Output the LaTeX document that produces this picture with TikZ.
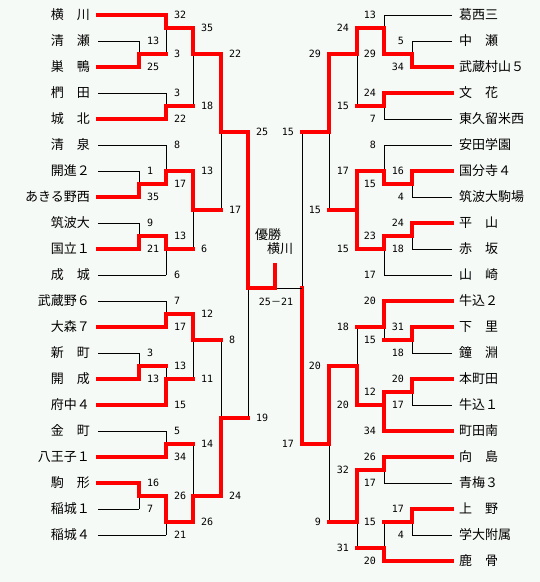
\documentclass[tikz,border=0pt]{standalone}
\usepackage{fontspec}
\usepackage{tikz}
\newfontfamily\jp{Noto Sans CJK JP}
\newfontfamily\digits{DejaVu Sans Mono}
\definecolor{bgcol}{RGB}{246,250,246}
\definecolor{wincol}{RGB}{255,0,0}

\begin{document}
\begin{tikzpicture}[x=1pt, y=-13pt,
  team/.style={inner sep=0pt, font=\jp\fontsize{13}{13}\selectfont},
  score/.style={inner sep=0pt, font=\digits\fontsize{10}{10}\selectfont},
  bk/.style={draw=black, line width=1pt},
  rd/.style={draw=wincol, line width=3.6pt, line cap=rect},
]
\fill[bgcol] (0,{-15/13}) rectangle (540,{567/13});
\useasboundingbox (0,{-15/13}) rectangle (540,{567/13});

% Teams, left block
\foreach \i/\t in {1/横　川, 2/清　瀬, 3/巣　鴨, 4/椚　田, 5/城　北, 6/清　泉,
  7/開進２, 8/あきる野西, 9/筑波大, 10/国立１, 11/成　城, 12/武蔵野６,
  13/大森７, 14/新　町, 15/開　成, 16/府中４, 17/金　町, 18/八王子１,
  19/駒　形, 20/稲城１, 21/稲城４}
{ \node[team, anchor=east] (nL\i) at (90,{2*(\i-1)}) {\t};
  \coordinate (L\i) at ([xshift=8pt]nL\i.east); }

% Teams, right block
\foreach \i/\t in {1/葛西三, 2/中　瀬, 3/武蔵村山５, 4/文　花, 5/東久留米西,
  6/安田学園, 7/国分寺４, 8/筑波大駒場, 9/平　山, 10/赤　坂, 11/山　崎,
  12/牛込２, 13/下　里, 14/鐘　淵, 15/本町田, 16/牛込１, 17/町田南,
  18/向　島, 19/青梅３, 20/上　野, 21/学大附属, 22/鹿　骨}
{ \node[team, anchor=west] (nR\i) at (459,{2*(\i-1)}) {\t};
  \coordinate (R\i) at ([xshift=-7pt]nR\i.west); }

% Left bracket: name/column/top/colour/bottom/colour/out/winner/scores
\foreach \n/\x/\a/\ca/\b/\cb/\y/\w/\sa/\sb in {
  a1/139/L2/bk/L3/rd/3/L3/13/25,
  a2/166/L1/rd/a1/rd/1/L1/32/3,
  a3/166/L4/bk/L5/rd/7/L5/3/22,
  a4/193/a2/rd/a3/rd/3/a2/35/18,
  a5/139/L7/bk/L8/rd/13/L8/1/35,
  a6/166/L6/bk/a5/rd/12/a5/8/17,
  a7/139/L9/bk/L10/rd/17/L10/9/21,
  a8/166/a7/rd/L11/bk/18/a7/13/6,
  a9/193/a6/rd/a8/rd/15/a6/13/6,
  a10/221/a4/rd/a9/rd/9/a4/22/17,
  a11/166/L12/bk/L13/rd/23/L13/7/17,
  a12/139/L14/bk/L15/rd/27/L15/3/13,
  a13/166/a12/rd/L16/rd/28/L16/13/15,
  a14/193/a11/rd/a13/rd/25/a11/12/11,
  a15/166/L17/bk/L18/rd/33/L18/5/34,
  a16/139/L19/rd/L20/bk/37/L19/16/7,
  a17/166/a16/rd/L21/bk/39/a16/26/21,
  a18/193/a15/rd/a17/rd/37/a17/14/26,
  a19/221/a14/rd/a18/rd/31/a18/8/24,
  a20/248/a10/rd/a19/rd/21/a10/25/19}
{ \coordinate (\n) at (\x,\y);
  \draw[bk] (\a -| \n) -- (\b -| \n);
  \draw[\ca] (\a) -- (\a -| \n);
  \draw[\cb] (\b) -- (\b -| \n);
  \draw[rd] (\w -| \n) -- (\n);
  \node[score, anchor=west, xshift=8pt] (\n-1) at (\a -| \n) {\sa};
  \node[score, anchor=west, xshift=8pt] (\n-2) at (\b -| \n) {\sb}; }

% Right bracket
\foreach \n/\x/\a/\ca/\b/\cb/\y/\w/\sa/\sb in {
  b1/412/R2/bk/R3/rd/3/R3/5/34,
  b2/384/R1/bk/b1/rd/1/b1/13/29,
  b3/384/R4/rd/R5/bk/7/R4/24/7,
  b4/357/b2/rd/b3/rd/3/b2/24/15,
  b5/412/R7/rd/R8/bk/13/R7/16/4,
  b6/384/R6/bk/b5/rd/12/b5/8/15,
  b7/412/R9/rd/R10/bk/17/R9/24/18,
  b8/384/b7/rd/R11/bk/18/b7/23/17,
  b9/357/b6/rd/b8/rd/15/b6/17/15,
  b10/329/b4/rd/b9/rd/9/b4/29/15,
  b11/412/R13/rd/R14/bk/25/R13/31/18,
  b12/384/R12/rd/b11/rd/24/R12/20/15,
  b13/412/R15/rd/R16/bk/29/R15/20/17,
  b14/384/b13/rd/R17/rd/30/R17/12/34,
  b15/357/b12/rd/b14/rd/27/b14/18/20,
  b16/384/R18/rd/R19/bk/35/R18/26/17,
  b17/412/R20/rd/R21/bk/39/R20/17/4,
  b18/384/b17/rd/R22/rd/41/R22/15/20,
  b19/357/b16/rd/b18/rd/39/b16/32/31,
  b20/329/b15/rd/b19/rd/33/b15/20/9,
  b21/302/b10/rd/b20/rd/21/b20/15/17}
{ \coordinate (\n) at (\x,\y);
  \draw[bk] (\a -| \n) -- (\b -| \n);
  \draw[\ca] (\a) -- (\a -| \n);
  \draw[\cb] (\b) -- (\b -| \n);
  \draw[rd] (\w -| \n) -- (\n);
  \node[score, anchor=east, xshift=-8pt] (\n-1) at (\a -| \n) {\sa};
  \node[score, anchor=east, xshift=-8pt] (\n-2) at (\b -| \n) {\sb}; }
\draw[rd] (b8 -| b9) -- (b9);
\draw[rd] (b13 -| b14) -- (b14);

% Final
\coordinate (champ) at (275,21);
\coordinate (flag) at (275,19.2);
\draw[bk] (champ) -- (b21);
\draw[rd] (a20) -- (champ) -- (flag);
\node[team] (yusho) at (268,16.92) {優勝};
\node[team] (champname) at (280,18) {横川};
\node[score] (final) at (276,22.1) {25{\jp －}21};
\end{tikzpicture}
\end{document}
